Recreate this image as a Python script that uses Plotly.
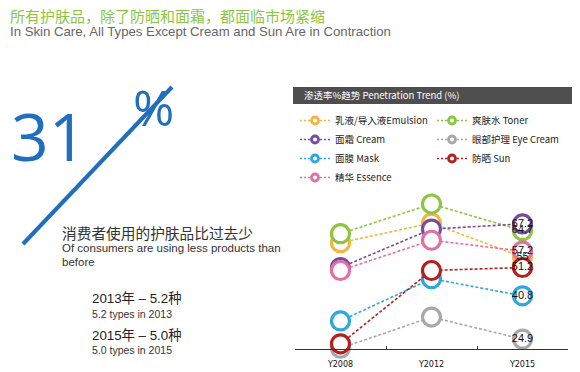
import plotly.graph_objects as go

# ---------------- data ----------------
categories = ["Y2008", "Y2012", "Y2015"]
series_names = ["乳液/导入液Emulsion", "爽肤水 Toner", "面霜 Cream", "眼部护理 Eye Cream",
                "面膜 Mask", "防晒 Sun", "精华 Essence"]
emulsion = [60.3, 67.5, 55]
toner = [63.6, 74.5, 64.7]
cream = [51.2, 65.3, 67.2]
eye_cream = [21.6, 33.0, 24.9]
mask = [31.6, 47.1, 40.8]
sun = [23.2, 50.1, 51.2]
essence = [50.1, 61.2, 57.2]

# page body has an 8px margin, so the figure is laid out 8px smaller
OFF = 8
W, H = 580 - OFF, 372 - OFF
L, R, T, B = 295 - OFF, 12, 189 - OFF, 23
PW, PH = W - L - R, H - T - B


def px(x):
    return (x - OFF - L) / PW


def py(y):
    return (H - B - (y - OFF)) / PH


colors = {
    "乳液/导入液Emulsion": "#f4b53f",
    "爽肤水 Toner": "#8cc63e",
    "面霜 Cream": "#7a4b9e",
    "眼部护理 Eye Cream": "#a8a8a8",
    "面膜 Mask": "#2ea6de",
    "防晒 Sun": "#b3201f",
    "精华 Essence": "#e26fa6",
}
values = {
    "乳液/导入液Emulsion": emulsion,
    "爽肤水 Toner": toner,
    "面霜 Cream": cream,
    "眼部护理 Eye Cream": eye_cream,
    "面膜 Mask": mask,
    "防晒 Sun": sun,
    "精华 Essence": essence,
}
legend_col1 = ["乳液/导入液Emulsion", "面霜 Cream", "面膜 Mask", "精华 Essence"]
legend_col2 = ["爽肤水 Toner", "眼部护理 Eye Cream", "防晒 Sun"]
draw_order = ["眼部护理 Eye Cream", "面膜 Mask", "乳液/导入液Emulsion", "爽肤水 Toner",
              "面霜 Cream", "精华 Essence", "防晒 Sun"]

fig = go.Figure()
for name in draw_order:
    c = colors[name]
    fig.add_trace(go.Scatter(
        x=categories, y=values[name], name=name, mode="lines+markers",
        line=dict(color=c, width=1.6, dash="3px,2px"),
        marker=dict(size=18, color="white", line=dict(color=c, width=3.2)),
        showlegend=False, cliponaxis=False,
    ))

# legend entries (small symbols like the reference), two columns
for legend_id, names in (("legend", legend_col1), ("legend2", legend_col2)):
    for name in names:
        c = colors[name]
        fig.add_trace(go.Scatter(
            x=[None], y=[None], name=name, mode="lines+markers",
            line=dict(color=c, width=1.6, dash="2px,2px"),
            marker=dict(size=7, color="white", line=dict(color=c, width=2.8)),
            showlegend=True, legend=legend_id,
        ))

# value labels at the last category
last_vals = [values[n][-1] for n in series_names]
fig.add_trace(go.Scatter(
    x=[categories[-1]] * len(last_vals), y=last_vals, mode="text",
    text=[f"{v:g}" for v in last_vals], textposition="middle center",
    textfont=dict(size=11, color="#111", family="Liberation Sans, Arial"),
    showlegend=False, cliponaxis=False, hoverinfo="skip",
))

legend_style = dict(
    orientation="v", xanchor="left", yanchor="top",
    itemsizing="trace", itemwidth=30, tracegroupgap=0,
    font=dict(size=9.5, color="#222", family="Noto Sans CJK SC, Liberation Sans"),
    bgcolor="rgba(0,0,0,0)", traceorder="normal",
)

fig.update_layout(
    width=W, height=H,
    margin=dict(l=L, r=R, t=T, b=B, autoexpand=False),
    paper_bgcolor="white", plot_bgcolor="white",
    showlegend=True,
    legend=dict(x=px(295), y=py(106), **legend_style),
    legend2=dict(x=px(432), y=py(106), **legend_style),
    xaxis=dict(
        type="category", range=[-0.5, 2.5], tickson="boundaries",
        showline=True, linecolor="#333", linewidth=1, automargin=False,
        ticks="inside", ticklen=3, tickcolor="#333", ticklabelstandoff=7,
        showgrid=False, zeroline=False,
        tickfont=dict(size=8, color="#111", family="DejaVu Sans, Liberation Sans"),
    ),
    yaxis=dict(range=[21.3, 80], visible=False, showgrid=False, zeroline=False,
               automargin=False),
)

# title bar for chart
fig.add_shape(type="rect", xref="paper", yref="paper",
              x0=px(293), x1=px(578), y0=py(104), y1=py(87),
              fillcolor="#4e4e4e", line=dict(width=0), layer="above")
fig.add_annotation(xref="paper", yref="paper", x=px(302), y=py(95.5),
                   xanchor="left", yanchor="middle", showarrow=False,
                   text="渗透率%趋势 Penetration Trend (%)",
                   font=dict(size=9.5, color="white",
                             family="Noto Sans CJK SC, Liberation Sans"))

# diagonal line
fig.add_shape(type="line", xref="paper", yref="paper",
              x0=px(23), y0=py(244), x1=px(172), y1=py(87),
              line=dict(color="#1f6fbd", width=4))


def ann(x, y, text, size, color, family="Liberation Sans, Noto Sans CJK SC, Arial"):
    fig.add_annotation(xref="paper", yref="paper", x=px(x), y=py(y),
                       xanchor="left", yanchor="middle", showarrow=False,
                       text=text, font=dict(size=size, color=color, family=family))


ann(8, 15, "所有护肤品，除了防晒和面霜，都面临市场紧缩", 15, "#8cc63e",
    "Noto Sans CJK SC")
ann(8, 31, "In Skin Care, All Types Except Cream and Sun Are in Contraction", 13.2, "#666666")
ann(9, 135, "31", 66, "#1f6fbd", "Open Sans, Liberation Sans")
ann(131, 107, "%", 50, "#1f6fbd", "Open Sans, Liberation Sans")
ann(60, 232, "消费者使用的护肤品比过去少", 14.7, "#333333", "Noto Sans CJK SC")
ann(60, 248, "Of consumers are using less products than", 11.5, "#333333")
ann(60, 262, "before", 11.5, "#333333")
ann(90, 298, "2013年 – 5.2种", 13.3, "#222222", "Liberation Sans, Noto Sans CJK SC")
ann(90, 314, "5.2 types in 2013", 10.5, "#333333")
ann(90, 335, "2015年 – 5.0种", 13.3, "#222222", "Liberation Sans, Noto Sans CJK SC")
ann(90, 350, "5.0 types in 2015", 10.5, "#333333")

fig.write_html("out.html")
